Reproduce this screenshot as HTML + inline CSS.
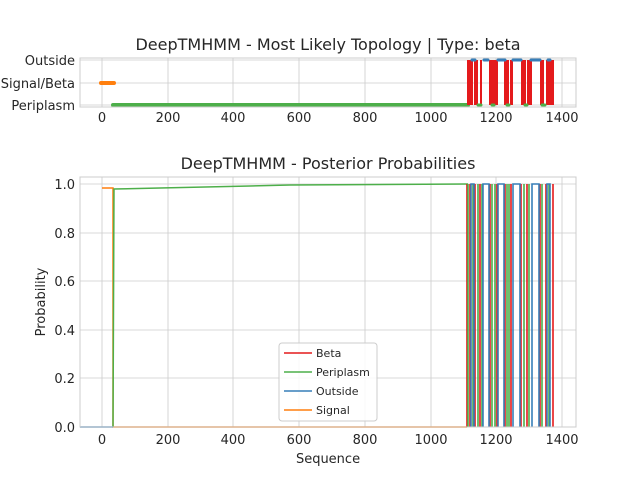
<!DOCTYPE html><html><head><style>body{margin:0;background:#fff}svg text{font-family:"DejaVu Sans","Liberation Sans",sans-serif;fill:#262626}</style></head><body>
<svg width="640" height="480" viewBox="0 0 640 480" xmlns="http://www.w3.org/2000/svg">
<rect width="640" height="480" fill="#fff"/>
<g stroke="#cccccc" stroke-width="0.8">
<line x1="102" y1="58" x2="102" y2="107"/><line x1="168" y1="58" x2="168" y2="107"/><line x1="233" y1="58" x2="233" y2="107"/><line x1="299" y1="58" x2="299" y2="107"/><line x1="365" y1="58" x2="365" y2="107"/><line x1="431" y1="58" x2="431" y2="107"/><line x1="496" y1="58" x2="496" y2="107"/><line x1="562" y1="58" x2="562" y2="107"/>
<line x1="80" y1="60" x2="576" y2="60"/><line x1="80" y1="83" x2="576" y2="83"/><line x1="80" y1="105" x2="576" y2="105"/>
<line x1="102" y1="177" x2="102" y2="427"/><line x1="168" y1="177" x2="168" y2="427"/><line x1="233" y1="177" x2="233" y2="427"/><line x1="299" y1="177" x2="299" y2="427"/><line x1="365" y1="177" x2="365" y2="427"/><line x1="431" y1="177" x2="431" y2="427"/><line x1="496" y1="177" x2="496" y2="427"/><line x1="562" y1="177" x2="562" y2="427"/>
<line x1="80" y1="184" x2="576" y2="184"/><line x1="80" y1="233" x2="576" y2="233"/><line x1="80" y1="281" x2="576" y2="281"/><line x1="80" y1="330" x2="576" y2="330"/><line x1="80" y1="378" x2="576" y2="378"/>
</g>
<line x1="101" y1="83" x2="114" y2="83" stroke="#ff7f0e" stroke-width="4" stroke-linecap="round"/>
<line x1="113" y1="105" x2="468" y2="105" stroke="#4daf4a" stroke-width="4" stroke-linecap="round"/>
<g fill="#e41a1c">
<rect x="467" y="60" width="6" height="45"/><rect x="474" y="60" width="4" height="45"/><rect x="480" y="60" width="2" height="45"/><rect x="489" y="60" width="9" height="45"/><rect x="504" y="60" width="5" height="45"/><rect x="510" y="60" width="3" height="45"/><rect x="521" y="60" width="5" height="45"/><rect x="527" y="60" width="5" height="45"/><rect x="540" y="60" width="4" height="45"/><rect x="546" y="60" width="8" height="45"/>
</g>
<g stroke="#377eb8" stroke-width="3" stroke-linecap="round">
<line x1="472" y1="60" x2="475" y2="60"/><line x1="484" y1="60" x2="488" y2="60"/><line x1="498" y1="60" x2="505" y2="60"/><line x1="513" y1="60" x2="521" y2="60"/><line x1="531" y1="60" x2="540" y2="60"/><line x1="548" y1="60" x2="550" y2="60"/>
</g>
<g stroke="#4daf4a" stroke-width="3" stroke-linecap="round">
<line x1="478" y1="105" x2="481" y2="105"/><line x1="492" y1="105" x2="494" y2="105"/><line x1="507" y1="105" x2="509" y2="105"/><line x1="525" y1="105" x2="527" y2="105"/><line x1="542" y1="105" x2="545" y2="105"/>
</g>
<rect x="80" y="58" width="496" height="49" fill="none" stroke="#cccccc" stroke-width="1"/>
<text x="328" y="50" font-size="16" text-anchor="middle">DeepTMHMM - Most Likely Topology | Type: beta</text>
<g font-size="13" text-anchor="end"><text x="75" y="65">Outside</text><text x="75" y="88">Signal/Beta</text><text x="75" y="110">Periplasm</text></g>
<g font-size="13" text-anchor="middle"><text x="102" y="122">0</text><text x="168" y="122">200</text><text x="233" y="122">400</text><text x="299" y="122">600</text><text x="365" y="122">800</text><text x="431" y="122">1000</text><text x="496" y="122">1200</text><text x="562" y="122">1400</text></g>
<polyline points="102,188 113,188 113,427 467,427" fill="none" stroke="#ff7f0e" stroke-width="1.5"/>
<polyline points="113,427 114,189 160,188 250,186 290,185 468,184" fill="none" stroke="#4daf4a" stroke-width="1.5"/>
<line x1="80" y1="427" x2="113" y2="427" stroke="#377eb8" stroke-width="1.5"/>
<g stroke-width="1.6" fill="none">
<path d="M467 427V184M470 427V184M475 427V184M480 427V184M490 427V184M497 427V184M505 427V184M511 427V184M521 427V184M527 427V184M540 427V184M546 427V184M553 427V184" stroke="#e41a1c"/>
<path d="M468 427V184M473 427V184M478 427V184M482 427V184M492 427V184M495 427V184M507 427V184M509 427V184M524 427V184M529 427V184M542 427V184M549 427V184" stroke="#4daf4a"/>
<path d="M471 427V184H474V427M483 427V184H489V427M498 427V184H504V427M513 427V184H520V427M532 427V184H539V427M547 427V184H550V427" stroke="#377eb8"/>
</g>
<rect x="80" y="177" width="496" height="250" fill="none" stroke="#cccccc" stroke-width="1"/>
<text x="328" y="169" font-size="16" text-anchor="middle">DeepTMHMM - Posterior Probabilities</text>
<g font-size="13" text-anchor="end"><text x="75" y="189">1.0</text><text x="75" y="238">0.8</text><text x="75" y="286">0.6</text><text x="75" y="335">0.4</text><text x="75" y="383">0.2</text><text x="75" y="432">0.0</text></g>
<g font-size="13" text-anchor="middle"><text x="102" y="444">0</text><text x="168" y="444">200</text><text x="233" y="444">400</text><text x="299" y="444">600</text><text x="365" y="444">800</text><text x="431" y="444">1000</text><text x="496" y="444">1200</text><text x="562" y="444">1400</text></g>
<text x="328" y="463" font-size="13" text-anchor="middle">Sequence</text>
<text transform="translate(45,302) rotate(-90)" font-size="13" text-anchor="middle">Probability</text>
<rect x="279" y="343" width="98" height="78" rx="3" fill="#fff" fill-opacity="0.85" stroke="#cccccc"/>
<g stroke-width="1.5"><line x1="284" y1="353" x2="312" y2="353" stroke="#e41a1c"/><line x1="284" y1="372" x2="312" y2="372" stroke="#4daf4a"/><line x1="284" y1="391" x2="312" y2="391" stroke="#377eb8"/><line x1="284" y1="410" x2="312" y2="410" stroke="#ff7f0e"/></g>
<g font-size="11"><text x="316" y="357">Beta</text><text x="316" y="376">Periplasm</text><text x="316" y="395">Outside</text><text x="316" y="414">Signal</text></g>
</svg></body></html>
